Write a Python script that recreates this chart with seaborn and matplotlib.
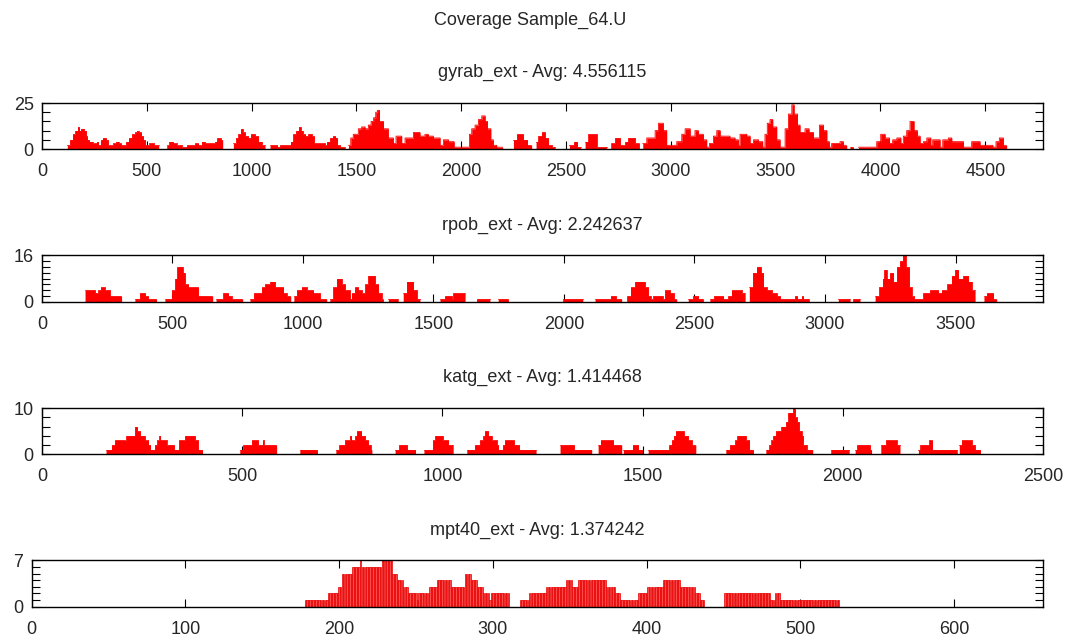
import numpy as np
import pandas as pd
import matplotlib
matplotlib.use("Agg")
import matplotlib.pyplot as plt
from matplotlib.ticker import MultipleLocator
import seaborn as sns

sns.set_style("white")
plt.rcParams["font.family"] = ["Liberation Sans", "DejaVu Sans"]
plt.rcParams["font.size"] = 13

figure_title = "Coverage Sample_64.U"
gene_names = ["gyrab_ext", "rpob_ext", "katg_ext", "mpt40_ext"]
gene_avgs = ["4.556115", "2.242637", "1.414468", "1.374242"]
x_max = [4775, 3835, 2500, 658]
x_step = [500, 500, 500, 100]
y_max = [25, 16, 10, 7]
y_minor = [5, 2, 2, 1]

# coverage as run-length steps: each start position opens a run of the given depth
gyrab_starts = [
    0, 121, 134, 146, 159, 170, 178, 186, 200, 210,
    216, 226, 242, 261, 269, 280, 289, 305, 315, 340,
    353, 366, 378, 401, 413, 429, 444, 452, 461, 474,
    483, 493, 512, 534, 557, 595, 607, 627, 642, 666,
    690, 730, 746, 762, 778, 825, 836, 852, 862, 913,
    926, 937, 948, 958, 969, 985, 996, 1016, 1032, 1048,
    1064, 1088, 1123, 1135, 1186, 1199, 1212, 1225, 1234, 1244,
    1256, 1271, 1287, 1298, 1350, 1358, 1374, 1387, 1400, 1409,
    1422, 1446, 1462, 1473, 1485, 1509, 1525, 1541, 1557, 1570,
    1582, 1592, 1600, 1610, 1629, 1652, 1676, 1689, 1716, 1732,
    1772, 1803, 1827, 1843, 1867, 1899, 1915, 1939, 1966, 2039,
    2050, 2066, 2082, 2098, 2114, 2125, 2141, 2153, 2169, 2198,
    2249, 2265, 2296, 2316, 2336, 2357, 2368, 2384, 2400, 2416,
    2432, 2448, 2516, 2538, 2554, 2570, 2591, 2607, 2646, 2694,
    2713, 2734, 2758, 2782, 2797, 2829, 2850, 2866, 2885, 2925,
    2941, 2964, 2980, 3028, 3052, 3068, 3092, 3115, 3131, 3155,
    3171, 3184, 3203, 3219, 3235, 3282, 3306, 3322, 3330, 3362,
    3378, 3394, 3418, 3438, 3449, 3460, 3473, 3486, 3505, 3521,
    3545, 3561, 3577, 3588, 3604, 3616, 3640, 3659, 3680, 3709,
    3728, 3744, 3756, 3767, 3807, 3823, 3839, 3855, 3871, 3895,
    3982, 4001, 4022, 4043, 4058, 4078, 4097, 4109, 4125, 4141,
    4160, 4176, 4189, 4205, 4221, 4240, 4249, 4284, 4297, 4324,
    4340, 4396, 4435, 4475, 4536, 4551, 4567, 4586, 4602,
]
gyrab_cov = [
    0, 2, 5, 8, 10, 12, 10, 11, 10, 7,
    5, 4, 3, 4, 2, 5, 6, 5, 2, 3,
    4, 3, 2, 4, 6, 8, 9, 10, 9, 7,
    5, 2, 3, 2, 0, 2, 4, 3, 2, 1,
    2, 3, 2, 4, 3, 4, 6, 5, 0, 3,
    6, 8, 11, 9, 7, 6, 8, 7, 4, 2,
    0, 2, 1, 2, 4, 8, 10, 12, 10, 8,
    7, 8, 7, 3, 2, 4, 6, 7, 6, 2,
    1, 0, 2, 6, 8, 11, 12, 11, 13, 15,
    17, 20, 21, 15, 11, 6, 3, 7, 3, 6,
    9, 7, 8, 7, 6, 2, 5, 4, 1, 8,
    11, 13, 16, 18, 15, 11, 5, 2, 1, 0,
    5, 8, 5, 2, 0, 4, 7, 9, 6, 2,
    1, 0, 2, 4, 1, 0, 4, 8, 1, 0,
    3, 6, 2, 4, 6, 3, 0, 3, 6, 10,
    14, 10, 2, 4, 8, 11, 7, 10, 8, 5,
    1, 3, 7, 10, 7, 6, 5, 2, 8, 7,
    3, 5, 4, 1, 8, 14, 16, 12, 5, 1,
    11, 19, 24, 19, 13, 9, 11, 9, 6, 13,
    10, 4, 1, 3, 4, 2, 0, 1, 0, 1,
    4, 8, 6, 3, 5, 6, 3, 7, 10, 15,
    10, 7, 3, 4, 6, 2, 5, 1, 5, 6,
    4, 1, 4, 2, 1, 4, 6, 2, 0,
]

rpob_starts = [
    0, 165, 203, 216, 225, 241, 260, 305, 356, 375,
    395, 407, 439, 471, 497, 510, 518, 539, 548, 561,
    599, 654, 667, 695, 714, 727, 769, 797, 812, 842,
    854, 874, 893, 925, 937, 953, 965, 976, 995, 1014,
    1040, 1065, 1091, 1103, 1116, 1129, 1148, 1161, 1180, 1186,
    1199, 1212, 1225, 1238, 1250, 1276, 1289, 1301, 1308, 1327,
    1365, 1384, 1397, 1423, 1436, 1448, 1525, 1544, 1570, 1576,
    1621, 1665, 1716, 1748, 1787, 1995, 2072, 2119, 2179, 2199,
    2221, 2240, 2255, 2272, 2310, 2323, 2332, 2342, 2378, 2387,
    2406, 2421, 2432, 2476, 2495, 2515, 2534, 2559, 2575, 2611,
    2630, 2642, 2681, 2694, 2710, 2723, 2738, 2754, 2764, 2777,
    2796, 2815, 2828, 2885, 2894, 2911, 2917, 2940, 3051, 3096,
    3106, 3134, 3192, 3208, 3221, 3227, 3236, 3249, 3262, 3275,
    3287, 3298, 3309, 3323, 3332, 3341, 3377, 3402, 3434, 3447,
    3469, 3485, 3498, 3511, 3530, 3549, 3562, 3575, 3609, 3620,
    3645, 3658,
]
rpob_cov = [
    0, 4, 3, 4, 5, 4, 2, 0, 1, 3,
    2, 1, 0, 1, 4, 8, 12, 10, 6, 5,
    2, 0, 1, 3, 2, 1, 0, 1, 3, 5,
    6, 7, 5, 3, 2, 0, 2, 4, 5, 4,
    3, 1, 0, 1, 5, 8, 6, 4, 1, 3,
    5, 4, 3, 6, 9, 6, 3, 1, 0, 1,
    0, 3, 7, 4, 1, 0, 1, 2, 1, 3,
    0, 1, 0, 1, 0, 1, 0, 1, 2, 1,
    0, 2, 5, 7, 5, 2, 1, 2, 1, 4,
    3, 1, 0, 1, 2, 1, 0, 1, 2, 1,
    2, 4, 3, 0, 5, 10, 12, 10, 5, 4,
    3, 2, 1, 2, 1, 2, 1, 0, 1, 0,
    1, 0, 2, 5, 8, 11, 8, 10, 7, 12,
    14, 16, 12, 5, 2, 1, 3, 4, 3, 4,
    6, 9, 11, 8, 9, 7, 4, 0, 2, 3,
    1, 0,
]

katg_starts = [
    0, 160, 174, 182, 211, 232, 238, 245, 257, 266,
    271, 282, 288, 293, 296, 311, 330, 342, 357, 382,
    390, 401, 494, 503, 524, 540, 551, 554, 586, 644,
    688, 734, 743, 757, 769, 773, 782, 786, 798, 807,
    815, 821, 824, 882, 892, 912, 933, 954, 976, 982,
    1001, 1015, 1027, 1061, 1081, 1094, 1102, 1106, 1115, 1123,
    1136, 1140, 1151, 1156, 1179, 1192, 1234, 1294, 1329, 1373,
    1389, 1395, 1427, 1448, 1452, 1475, 1489, 1500, 1514, 1567,
    1573, 1578, 1583, 1603, 1614, 1623, 1633, 1708, 1718, 1731,
    1737, 1758, 1767, 1777, 1808, 1817, 1822, 1826, 1833, 1847,
    1858, 1864, 1876, 1881, 1886, 1891, 1897, 1901, 1910, 1925,
    1970, 2016, 2031, 2036, 2068, 2072, 2095, 2108, 2135, 2143,
    2189, 2194, 2216, 2224, 2286, 2291, 2297, 2322, 2330, 2344,
]
katg_cov = [
    0, 1, 2, 3, 4, 6, 5, 4, 3, 2,
    1, 2, 3, 4, 3, 2, 1, 3, 4, 3,
    1, 0, 1, 2, 3, 2, 3, 2, 0, 1,
    0, 1, 2, 3, 4, 3, 4, 5, 4, 3,
    2, 1, 0, 1, 2, 1, 0, 1, 3, 4,
    3, 2, 0, 1, 2, 3, 4, 5, 4, 3,
    2, 1, 2, 3, 2, 1, 0, 2, 1, 0,
    2, 3, 2, 0, 1, 2, 1, 0, 1, 2,
    3, 4, 5, 4, 3, 2, 0, 1, 2, 3,
    4, 3, 1, 0, 1, 2, 3, 4, 5, 6,
    7, 9, 10, 8, 7, 5, 4, 2, 1, 0,
    1, 0, 1, 2, 1, 0, 2, 3, 2, 0,
    1, 2, 3, 1, 0, 2, 3, 2, 1, 0,
]

mpt40_starts = [
    178, 193, 200, 202, 209, 214, 215, 228, 235, 238,
    242, 245, 251, 252, 259, 264, 273, 282, 286, 290,
    294, 298, 299, 311, 318, 324, 335, 348, 352, 356,
    374, 380, 383, 395, 401, 411, 422, 432, 435, 438,
    451, 481, 484, 487, 526,
]
mpt40_cov = [
    1, 2, 3, 5, 6, 7, 6, 7, 5, 4,
    3, 2, 1, 2, 3, 4, 3, 5, 4, 3,
    2, 1, 2, 0, 1, 2, 3, 4, 3, 4,
    3, 2, 1, 2, 3, 4, 3, 2, 1, 0,
    2, 1, 2, 1, 0,
]

starts_all = [gyrab_starts, rpob_starts, katg_starts, mpt40_starts]
cov_all = [gyrab_cov, rpob_cov, katg_cov, mpt40_cov]


def per_base(starts, cov, end):
    """Expand run-length coverage into one depth value per base."""
    bounds = list(starts) + [end]
    run_len = np.diff(bounds)
    pos = np.concatenate([np.arange(s, s + n) for s, n in zip(starts, run_len)])
    depth = np.repeat(cov, run_len)
    sites = pd.DataFrame({"pos": pos, "depth": depth})
    # label each covered stretch so outlines do not bridge uncovered gaps
    covered = sites["depth"] > 0
    sites["block"] = (covered != covered.shift(fill_value=False)).cumsum()
    sites["covered"] = covered
    return sites


fig = plt.figure(figsize=(10.71, 6.39), dpi=100)
axes_rects = [
    (0.0392, 0.7668, 0.9346, 0.0720),
    (0.0392, 0.5274, 0.9346, 0.0731),
    (0.0392, 0.2890, 0.9346, 0.0725),
    (0.0296, 0.0505, 0.9445, 0.0726),
]
bar_red = "#ff0000"

for i, rect in enumerate(axes_rects):
    ax = fig.add_axes(rect)
    if i < 3:
        # dense profile: filled step area under the per-base depth
        sites = per_base(starts_all[i], cov_all[i], x_max[i])
        ax.fill_between(sites["pos"], sites["depth"], step="post",
                        color=bar_red, linewidth=0)
        sns.lineplot(data=sites[sites["covered"]], x="pos", y="depth",
                     units="block", estimator=None, drawstyle="steps-post",
                     color=bar_red, linewidth=0.6, ax=ax)
    else:
        # one box per base
        sites = per_base(starts_all[i][:-1], cov_all[i][:-1], starts_all[i][-1])
        sns.histplot(data=sites, x="pos", weights="depth", discrete=True,
                     shrink=0.9, color="#ff4a4a", alpha=1,
                     edgecolor="#e60000", linewidth=0.5, ax=ax)

    ax.set_xlim(0, x_max[i])
    ax.set_ylim(0, y_max[i])
    ax.set_xticks(np.arange(0, x_max[i] + 1, x_step[i]))
    ax.set_yticks([0, y_max[i]])
    ax.yaxis.set_minor_locator(MultipleLocator(y_minor[i]))
    ax.set_xlabel("")
    ax.set_ylabel("")
    ax.tick_params(which="both", direction="in", top=True, right=True,
                   bottom=True, left=True, length=6, width=0.8, color="black",
                   labelsize=13)
    ax.tick_params(axis="x", which="minor", top=False, bottom=False)
    ax.tick_params(axis="x", which="major", pad=10)
    ax.tick_params(axis="y", which="major", pad=6)
    for sp in ax.spines.values():
        sp.set_visible(True)
        sp.set_color("black")
        sp.set_linewidth(1.0)
        sp.set_zorder(3)
    ax.set_title(f"{gene_names[i]} - Avg: {gene_avgs[i]}", pad=18.5, fontsize=13)

fig.text(530 / 1071, 1 - 25 / 639, figure_title, ha="center", va="baseline",
         fontsize=13)
fig.savefig("out.png", dpi=100, facecolor="white")
